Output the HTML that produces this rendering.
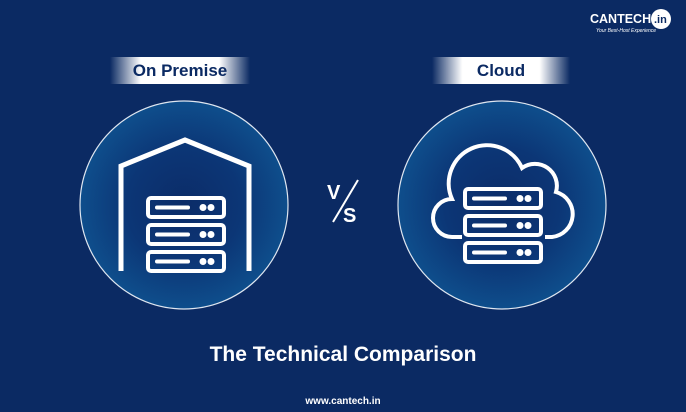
<!DOCTYPE html>
<html><head><style>
html,body{margin:0;padding:0}
body{width:686px;height:412px;background:#0b2a63;position:relative;overflow:hidden;font-family:"Liberation Sans",sans-serif}
.lbl{position:absolute;height:27px;line-height:27px;text-align:center;font-weight:bold;font-size:17px;color:#0b2a63;background:linear-gradient(90deg,rgba(255,255,255,0),#fff 22%,#fff 78%,rgba(255,255,255,0))}
.t{position:absolute;color:#fff;font-weight:bold}
</style></head><body>
<div class="lbl" style="left:110px;top:57px;width:140px">On Premise</div>
<div class="lbl" style="left:432px;top:57px;width:138px">Cloud</div>
<svg width="686" height="412" style="position:absolute;left:0;top:0">
<defs>
<radialGradient id="g"><stop offset="0" stop-color="#0b2c68"/><stop offset="0.55" stop-color="#0c3676"/><stop offset="1" stop-color="#0e4e8c"/></radialGradient>
<g id="srv" fill="none" stroke="#fff" stroke-width="4">
<rect x="0" y="0" width="76" height="19" rx="3"/>
<line x1="9" y1="9.5" x2="40" y2="9.5" stroke-linecap="round"/>
<circle cx="55" cy="9.5" r="1.5" fill="#fff"/><circle cx="63" cy="9.5" r="1.5" fill="#fff"/>
</g>
</defs>
<circle cx="184" cy="205" r="104" fill="url(#g)" stroke="#dfe6f0" stroke-width="1.2"/>
<circle cx="502" cy="205" r="104" fill="url(#g)" stroke="#dfe6f0" stroke-width="1.2"/>
<path d="M121,271 V166 L185,140 L249,166 V271" fill="none" stroke="#fff" stroke-width="5"/>
<use href="#srv" x="148" y="198"/><use href="#srv" x="148" y="225"/><use href="#srv" x="148" y="252"/>
<path d="M462,237 H452 A19,19 0 0 1 452,199 A34,34 0 0 1 522,168 A22,22 0 0 1 556,192 A23,23 0 0 1 552,237 H545" fill="none" stroke="#fff" stroke-width="4"/>
<use href="#srv" x="465" y="189"/><use href="#srv" x="465" y="216"/><use href="#srv" x="465" y="243"/>
<line x1="333" y1="222" x2="358" y2="180" stroke="#fff" stroke-width="2"/>
<text x="327" y="199" fill="#fff" font-family="Liberation Sans" font-weight="bold" font-size="20">V</text>
<text x="343" y="222" fill="#fff" font-family="Liberation Sans" font-weight="bold" font-size="20">S</text>
<circle cx="661" cy="19" r="10" fill="#fff"/>
<text x="654" y="23" fill="#0b2a63" font-family="Liberation Sans" font-weight="bold" font-size="11">.in</text>
</svg>
<div class="t" style="left:590px;top:12px;font-size:12.5px">CANTECH</div>
<div class="t" style="left:596px;top:28px;font-size:5px;font-weight:normal;font-style:italic">Your Best-Host Experience</div>
<div class="t" style="left:0;width:686px;text-align:center;top:343px;font-size:21px">The Technical Comparison</div>
<div class="t" style="left:0;width:686px;text-align:center;top:396px;font-size:10px">www.cantech.in</div>
</body></html>
